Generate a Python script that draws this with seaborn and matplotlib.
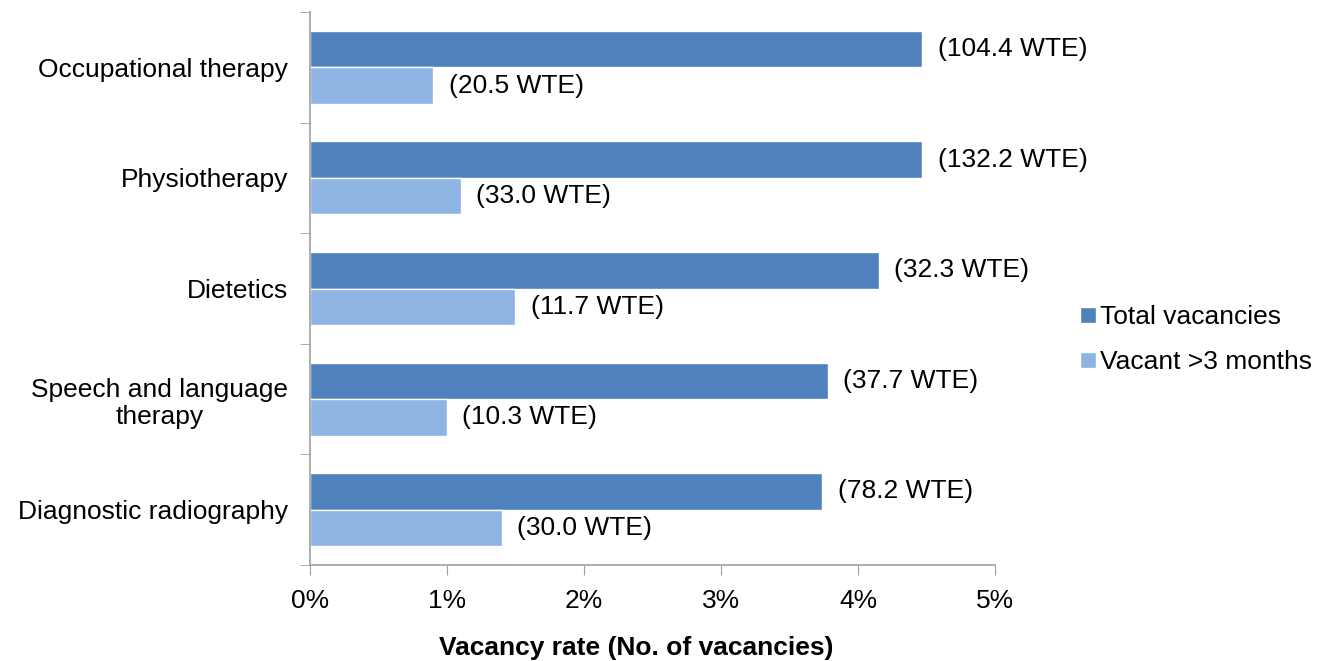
import pandas as pd
import matplotlib
matplotlib.use("Agg")
import matplotlib.pyplot as plt
import seaborn as sns
from matplotlib.patches import Patch

# --- data ---
professions = ["Occupational therapy", "Physiotherapy", "Dietetics",
               "Speech and language\ntherapy", "Diagnostic radiography"]
total_rate = [4.47, 4.47, 4.15, 3.78, 3.74]
vacant3_rate = [0.90, 1.10, 1.50, 1.00, 1.40]
total_wte = ["(104.4 WTE)", "(132.2 WTE)", "(32.3 WTE)", "(37.7 WTE)", "(78.2 WTE)"]
vacant3_wte = ["(20.5 WTE)", "(33.0 WTE)", "(11.7 WTE)", "(10.3 WTE)", "(30.0 WTE)"]
series = ["Total vacancies", "Vacant >3 months"]
x_ticks = [0, 1, 2, 3, 4, 5]

df = pd.DataFrame({
    "profession": professions * 2,
    "rate": total_rate + vacant3_rate,
    "series": [series[0]] * 5 + [series[1]] * 5,
})

sns.set_style("white")
plt.rcParams["font.family"] = ["Liberation Sans", "DejaVu Sans"]
plt.rcParams["text.color"] = "black"
plt.rcParams["xtick.color"] = "black"
plt.rcParams["ytick.color"] = "black"
plt.rcParams["axes.labelcolor"] = "black"

colors = {"Total vacancies": "#4F81BD", "Vacant >3 months": "#8EB4E3"}
fs = 19

fig = plt.figure(figsize=(13.27, 6.61), dpi=100)
ax = fig.add_axes([0.2336, 0.1452, 0.5162, 0.8366])

sns.barplot(data=df, x="rate", y="profession", hue="series", hue_order=series,
            order=professions, palette=colors, orient="h", width=0.66,
            saturation=1, legend=False, ax=ax)

# WTE labels next to each bar
for cont, labels in zip(ax.containers, [total_wte, vacant3_wte]):
    ax.bar_label(cont, labels=labels, padding=11, fontsize=fs)

ax.set_xlim(0, 5)
ax.set_ylim(4.5, -0.5)
ax.set_xticks(x_ticks)
ax.set_xticklabels([f"{t}%" for t in x_ticks], fontsize=fs)
ax.set_xlabel("Vacancy rate (No. of vacancies)", fontsize=fs, fontweight="bold",
              labelpad=17, x=0.477)
ax.set_ylabel("")

# category labels without ticks, tick marks at group boundaries
ax.tick_params(axis="y", which="major", length=0, pad=16, labelsize=fs)
ax.set_yticks([i - 0.5 for i in range(len(professions) + 1)], minor=True)
ax.tick_params(axis="y", which="minor", length=7, color="#A0A0A0", direction="out", left=True)
ax.tick_params(axis="x", length=7, color="#A0A0A0", direction="out", bottom=True, pad=10)
for lbl in ax.get_yticklabels():
    lbl.set_multialignment("center")

for side in ["top", "right"]:
    ax.spines[side].set_visible(False)
for side in ["left", "bottom"]:
    ax.spines[side].set_color("#A0A0A0")
    ax.spines[side].set_linewidth(1.2)

handles = [Patch(facecolor=colors[s], label=s) for s in series]
fig.legend(handles=handles, loc="center left", bbox_to_anchor=(0.796, 0.486),
           frameon=False, fontsize=fs, handlelength=0.6, handleheight=0.6,
           handletextpad=0.15, labelspacing=0.8)

fig.savefig("out.png", dpi=100)
